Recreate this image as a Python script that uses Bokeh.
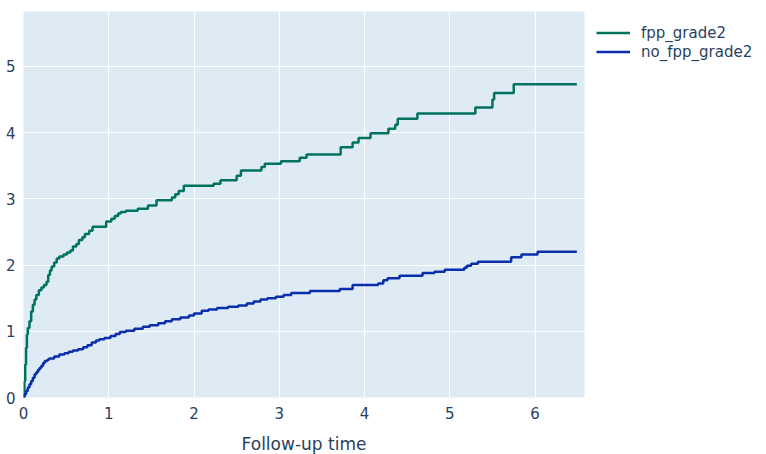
from bokeh.plotting import figure
from bokeh.models import Legend, LegendItem, Range1d, FixedTicker
from bokeh.embed import file_html
from bokeh.resources import INLINE

# data
fpp_t = [0, 0.01, 0.02, 0.03, 0.04, 0.05, 0.07, 0.09, 0.11, 0.13, 0.15, 0.18, 0.21, 0.24, 0.27, 0.29,
         0.31, 0.33, 0.36, 0.39, 0.42, 0.47, 0.51, 0.55, 0.58, 0.62, 0.65, 0.69, 0.72, 0.77, 0.81, 0.97,
         1.03, 1.07, 1.11, 1.14, 1.2, 1.34, 1.46, 1.56, 1.74, 1.78, 1.82, 1.88, 2.23, 2.31, 2.5, 2.55,
         2.79, 2.83, 3.02, 3.24, 3.32, 3.72, 3.86, 3.93, 4.07, 4.28, 4.36, 4.39, 4.62, 5.3, 5.5, 5.52,
         5.75, 6.49]
fpp_v = [0, 0.25, 0.5, 0.75, 0.95, 1.05, 1.15, 1.3, 1.4, 1.48, 1.55, 1.62, 1.66, 1.7, 1.75, 1.85,
         1.92, 1.98, 2.04, 2.1, 2.13, 2.16, 2.19, 2.22, 2.28, 2.32, 2.38, 2.42, 2.47, 2.52, 2.58, 2.66,
         2.7, 2.74, 2.78, 2.8, 2.82, 2.85, 2.9, 2.98, 3.02, 3.07, 3.12, 3.2, 3.23, 3.28, 3.35, 3.43,
         3.48, 3.53, 3.57, 3.62, 3.67, 3.78, 3.85, 3.92, 3.99, 4.06, 4.12, 4.21, 4.29, 4.38, 4.5, 4.6,
         4.73, 4.73]

nofpp_t = [0, 0.01, 0.03, 0.05, 0.07, 0.09, 0.11, 0.13, 0.15, 0.17, 0.19, 0.21, 0.23, 0.25, 0.28, 0.3,
           0.36, 0.42, 0.48, 0.53, 0.58, 0.64, 0.7, 0.75, 0.8, 0.85, 0.89, 0.95, 1.02, 1.08, 1.13, 1.2,
           1.3, 1.4, 1.48, 1.58, 1.66, 1.74, 1.84, 1.94, 2.0, 2.09, 2.17, 2.27, 2.4, 2.52, 2.62, 2.7,
           2.78, 2.86, 2.96, 3.05, 3.14, 3.36, 3.71, 3.86, 4.16, 4.22, 4.27, 4.41, 4.68, 4.82, 4.94,
           5.17, 5.2, 5.25, 5.33, 5.72, 5.84, 6.03, 6.49]
nofpp_v = [0, 0.05, 0.1, 0.15, 0.2, 0.25, 0.3, 0.35, 0.38, 0.42, 0.45, 0.48, 0.52, 0.55, 0.57, 0.59,
           0.62, 0.65, 0.67, 0.69, 0.71, 0.73, 0.76, 0.79, 0.83, 0.86, 0.88, 0.9, 0.93, 0.96, 0.99, 1.01,
           1.04, 1.07, 1.09, 1.12, 1.15, 1.18, 1.21, 1.24, 1.27, 1.31, 1.33, 1.35, 1.37, 1.39, 1.42, 1.45,
           1.48, 1.5, 1.52, 1.55, 1.58, 1.61, 1.64, 1.7, 1.72, 1.77, 1.8, 1.84, 1.88, 1.9, 1.93, 1.96,
           1.99, 2.02, 2.05, 2.12, 2.16, 2.2, 2.2]

series_names = ["fpp_grade2", "no_fpp_grade2"]
series_colors = ["#00735E", "#0B2FAA"]
x_ticks = [0, 1, 2, 3, 4, 5, 6]
y_ticks = [0, 1, 2, 3, 4, 5]
x_label = "Follow-up time"

FONT = "DejaVu Sans"
TEXT = "#2a3f5f"

p = figure(width=766, height=454, output_backend="svg", toolbar_location=None,
           x_range=Range1d(0, 6.58), y_range=Range1d(0, 5.83),
           min_border_left=23, min_border_top=11, min_border_right=0, min_border_bottom=0)
p.frame_width = 561
p.frame_height = 386
p.background_fill_color = "#DEEBF5"
p.border_fill_color = "white"
p.outline_line_color = None

r1 = p.step(fpp_t, fpp_v, mode="after", line_color=series_colors[0], line_width=2.5)
r2 = p.step(nofpp_t, nofpp_v, mode="after", line_color=series_colors[1], line_width=2.5)

for ax in (p.xaxis[0], p.yaxis[0]):
    ax.axis_line_color = None
    ax.major_tick_line_color = None
    ax.minor_tick_line_color = None
    ax.major_label_text_font = FONT
    ax.major_label_text_font_size = "15px"
    ax.major_label_text_color = TEXT
p.xaxis.ticker = FixedTicker(ticks=x_ticks)
p.yaxis.ticker = FixedTicker(ticks=y_ticks)
p.xaxis.major_label_standoff = 3
p.yaxis.major_label_standoff = 2
p.xaxis.axis_label = x_label
p.xaxis.axis_label_text_font = FONT
p.xaxis.axis_label_text_font_size = "17px"
p.xaxis.axis_label_text_font_style = "normal"
p.xaxis.axis_label_text_color = TEXT
p.xaxis.axis_label_standoff = 12

p.xgrid.grid_line_color = "white"
p.ygrid.grid_line_color = "white"
p.xgrid.grid_line_width = 1
p.ygrid.grid_line_width = 1

legend = Legend(items=[LegendItem(label=series_names[0], renderers=[r1]),
                       LegendItem(label=series_names[1], renderers=[r2])],
                location="top_left")
legend.border_line_color = None
legend.background_fill_alpha = 0
legend.label_text_font = FONT
legend.label_text_font_size = "15px"
legend.label_text_color = TEXT
legend.glyph_width = 34
legend.glyph_height = 19
legend.label_height = 19
legend.spacing = 0
legend.padding = 6
legend.margin = 12
legend.label_standoff = 11
p.add_layout(legend, "right")

open("out.html", "w").write(file_html(p, INLINE))
